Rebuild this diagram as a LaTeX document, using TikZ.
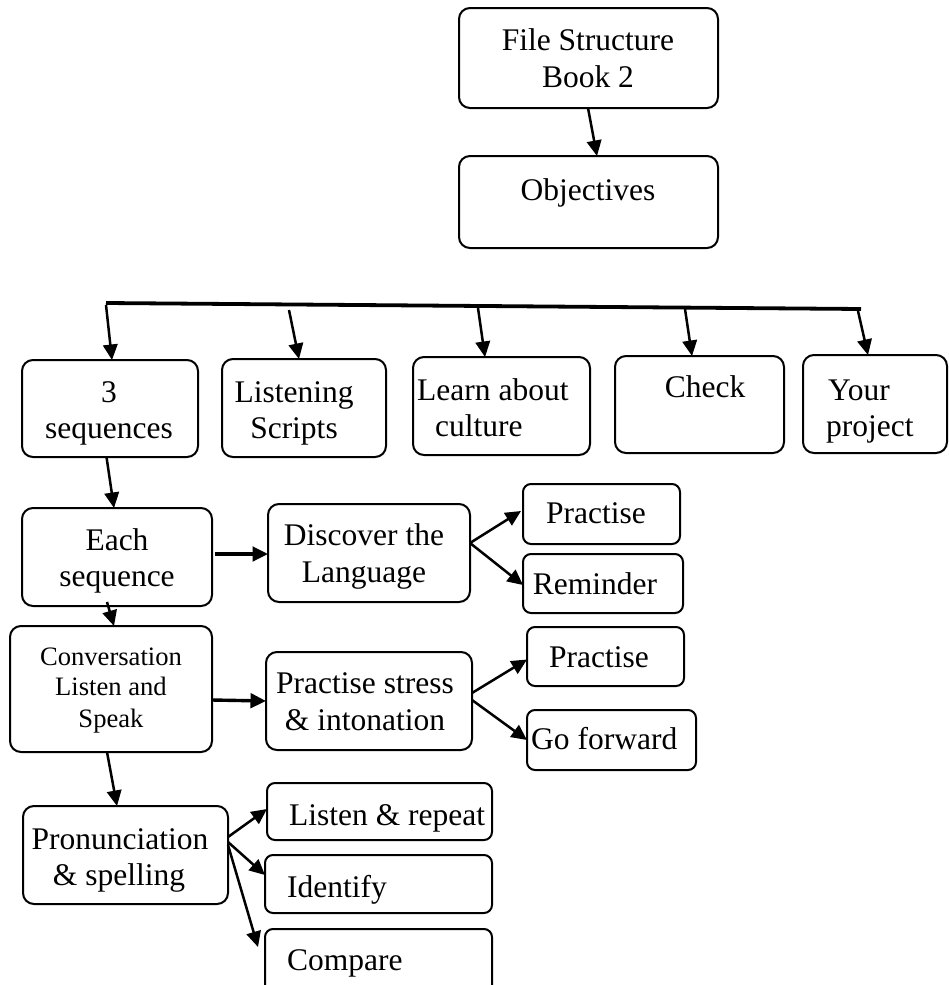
\documentclass[tikz,border=0pt]{standalone}
\usepackage{fontspec}
\setmainfont{Liberation Serif}
\usetikzlibrary{arrows.meta}
\begin{document}
\begin{tikzpicture}[x=1pt,y=-1pt,
  box/.style={draw, line width=2pt, rounded corners=11pt, inner sep=0pt, outer sep=0pt},
  smallbox/.style={box, rounded corners=8pt},
  txt/.style={inner sep=0pt, anchor=base, font=\fontsize{31.5}{37}\selectfont},
  txtl/.style={txt, anchor=base west},
  stxt/.style={inner sep=0pt, anchor=base, font=\fontsize{26.6}{31}\selectfont},
  arr/.style={-{Triangle[length=15.5pt,width=14.5pt]}, line width=2.5pt},
  heavyarr/.style={arr, line width=3.4pt},
  busline/.style={line width=3.8pt}]

\useasboundingbox (0,0) rectangle (948,985);
\clip (0,0) rectangle (948,985);

% title and objectives
\node[box, minimum width=259pt, minimum height=100pt] (top) at (588.5,58) {};
\node[txt] (top1) at (588,50) {File Structure};
\node[txt] (top2) at (588,87) {Book 2};
\node[box, minimum width=259pt, minimum height=92pt] (obj) at (588.5,202) {};
\node[txt] (objt) at (588,200) {Objectives};
\draw[arr] ([xshift=-0.5pt]top.south) -- ([xshift=8.5pt]obj.north);

% branching bar
\coordinate (barL) at (106,303);
\coordinate (barR) at (861,309);
\draw[busline] (barL) -- (barR);
\coordinate (b1) at (106,305);
\coordinate (b2) at (289,310);
\coordinate (b3) at (478,308);
\coordinate (b4) at (685,309);
\coordinate (b5) at (858,311);

% second row
\node[box, minimum width=176pt, minimum height=97pt] (seq) at (110,408.5) {};
\node[txt] (seq1) at (109,402) {3};
\node[txt] (seq2) at (109,438) {sequences};
\node[box, minimum width=164pt, minimum height=98pt] (lis) at (304,408) {};
\node[txt] (lis1) at (294,402) {Listening};
\node[txt] (lis2) at (294,438) {Scripts};
\node[box, minimum width=177pt, minimum height=98pt] (cul) at (501.5,406) {};
\node[txtl] (cul1) at (417,400) {Learn about};
\node[txtl] (cul2) at (435,436) {culture};
\node[box, minimum width=169pt, minimum height=97pt] (chk) at (699.5,404.5) {};
\node[txt] (chk1) at (705,397) {Check};
\node[box, minimum width=144pt, minimum height=98pt] (prj) at (875,404) {};
\node[txtl] (prj1) at (828,400) {Your};
\node[txtl] (prj2) at (826,436) {project};

\draw[arr] (b1) -- ([xshift=2pt]seq.north);
\draw[arr] (b2) -- ([xshift=-5pt]lis.north);
\draw[arr] (b3) -- ([xshift=-16.5pt]cul.north);
\draw[arr] (b4) -- ([xshift=-7.5pt]chk.north);
\draw[arr] (b5) -- ([xshift=-7pt]prj.north);

% each sequence
\node[box, minimum width=190pt, minimum height=98pt] (each) at (117,557) {};
\node[txt] (each1) at (117,550) {Each};
\node[txt] (each2) at (117,586) {sequence};
\draw[arr] ([xshift=-3.5pt]seq.south) -- ([xshift=-3pt]each.north);

\node[box, minimum width=202pt, minimum height=98pt] (disc) at (369,553) {};
\node[txt] (disc1) at (364,545) {Discover the};
\node[txt] (disc2) at (364,582) {Language};
\draw[heavyarr] ([xshift=3pt,yshift=3pt]each.east) -- ([yshift=-1pt]disc.west);

\node[smallbox, minimum width=157pt, minimum height=60pt] (pr1) at (601.5,514) {};
\node[txt] (pr1t) at (596,523) {Practise};
\node[smallbox, minimum width=160pt, minimum height=59pt] (rem) at (603,583.5) {};
\node[txt] (remt) at (595,594) {Reminder};
\draw[arr] ([yshift=10pt]disc.east) -- ([xshift=-2pt,yshift=3pt]pr1.west);
\draw[arr] ([yshift=10pt]disc.east) -- ([yshift=-1.5pt]rem.west);

% conversation
\node[box, minimum width=202pt, minimum height=126pt] (conv) at (111,689) {};
\node[stxt] (conv1) at (111,665) {Conversation};
\node[stxt] (conv2) at (111,695) {Listen and};
\node[stxt] (conv3) at (111,727) {Speak};
\draw[arr] ([xshift=-10pt,yshift=4pt]each.south) -- ([xshift=3pt]conv.north);

\node[box, minimum width=206pt, minimum height=98pt] (str) at (369,701) {};
\node[txt] (str1) at (365,693) {Practise stress};
\node[txt] (str2) at (365,730) {\& intonation};
\draw[heavyarr] ([yshift=-11pt]conv.east) -- ([yshift=-0pt]str.west);

\node[smallbox, minimum width=157pt, minimum height=59pt] (pr2) at (605.5,656.5) {};
\node[txt] (pr2t) at (599,667) {Practise};
\node[smallbox, minimum width=169pt, minimum height=60pt] (gof) at (611.5,740) {};
\node[txtl] (goft) at (531,749) {Go forward};
\draw[arr] ([yshift=8pt]str.east) -- ([yshift=-3pt]pr2.west);
\draw[arr] ([yshift=1pt]str.east) -- ([yshift=0pt]gof.west);

% pronunciation
\node[box, minimum width=205pt, minimum height=98pt] (pron) at (125.5,855) {};
\node[txt] (pron1) at (120,849) {Pronunciation};
\node[txt] (pron2) at (119,885) {\& spelling};
\draw[arr] ([xshift=-4pt]conv.south) -- ([xshift=-8.5pt]pron.north);

\node[smallbox, minimum width=225pt, minimum height=57pt] (lrep) at (379.5,811.5) {};
\node[txtl] (lrept) at (289,825) {Listen \& repeat};
\node[smallbox, minimum width=227pt, minimum height=58pt] (idt) at (378.5,884) {};
\node[txtl] (idtt) at (287,897) {Identify};
\node[smallbox, minimum width=227pt, minimum height=71pt] (cmp) at (378.5,964.5) {};
\node[txtl] (cmpt) at (287,970) {Compare};
\draw[arr] ([yshift=18pt]pron.east) -- ([yshift=2.5pt]lrep.west);
\draw[arr] ([yshift=13pt]pron.east) -- ([yshift=9pt]idt.west);
\draw[arr] ([yshift=10pt]pron.east) -- ([xshift=-7pt,yshift=17.5pt]cmp.west);

\end{tikzpicture}
\end{document}
